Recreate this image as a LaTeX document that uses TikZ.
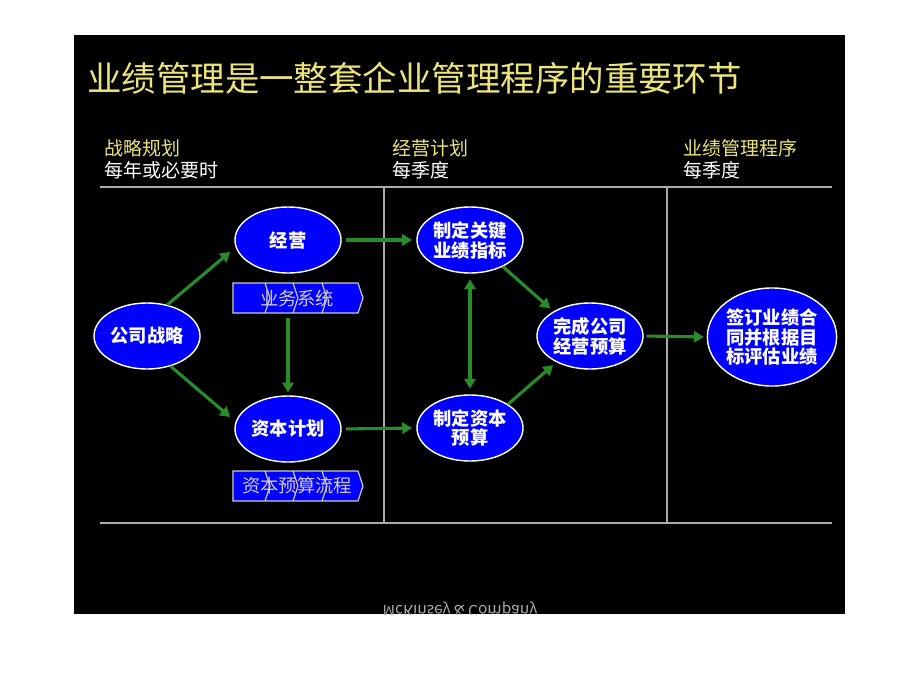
\documentclass[tikz,border=0pt]{standalone}
\usepackage{fontspec}
\setmainfont{Noto Sans CJK SC}
\usetikzlibrary{arrows.meta,shapes.geometric}

\definecolor{titleyellow}{RGB}{236,228,120}
\definecolor{ovalblue}{RGB}{0,0,255}
\definecolor{arrowgreen}{RGB}{40,140,40}
\definecolor{rulegray}{RGB}{170,170,170}
\definecolor{bartext}{RGB}{205,205,220}

\tikzset{
  oval/.style={ellipse,draw=white,fill=ovalblue,line width=1pt,inner sep=0pt,
    minimum width=2.65cm,minimum height=1.65cm,text=white,align=center,
    font=\fontsize{13}{14.2}\selectfont\bfseries},
  flow/.style={draw=arrowgreen,line width=2.2pt,-{Triangle[length=7pt,width=8pt]}},
  rule/.style={draw=rulegray,line width=1.5pt},
  head/.style={anchor=west,inner sep=0pt,font=\fontsize{13.5}{15}\selectfont},
  bar/.style={fill=ovalblue,draw=rulegray!60!white,line width=0.8pt}
}

\begin{document}
\begin{tikzpicture}[x=0.025cm,y=-0.025cm]
\useasboundingbox[fill=white] (0,0) rectangle (920,690);
\fill[black] (74,35) rectangle (845,614);

% title and columns
\node[anchor=west,inner sep=0pt,text=titleyellow,font=\fontsize{24.5}{26}\selectfont] (title) at (87,78) {业绩管理是一整套企业管理程序的重要环节};
\node[head,text=titleyellow] (h1) at (104,148) {战略规划};
\node[head,text=white] (s1) at (104,170) {每年或必要时};
\node[head,text=titleyellow] (h2) at (392,148) {经营计划};
\node[head,text=white] (s2) at (392,170) {每季度};
\node[head,text=titleyellow] (h3) at (683,148) {业绩管理程序};
\node[head,text=white] (s3) at (683,170) {每季度};

\draw[rule] (100,187) -- (832,187);
\draw[rule] (100,523) -- (832,523);
\draw[rule] (384,187) -- (384,523);
\draw[rule] (667,187) -- (667,523);

% ovals
\node[oval] (strat) at (147,336) {公司战略};
\node[oval] (ops) at (288,240) {经营};
\node[oval] (cap) at (288,429) {资本计划};
\node[oval] (kpi) at (470,240) {制定关键\\业绩指标};
\node[oval] (capbud) at (470,428) {制定资本\\预算};
\node[oval] (budget) at (590,336) {完成公司\\经营预算};
\node[oval,minimum width=3.2cm,minimum height=2.45cm,font=\fontsize{13}{13.8}\selectfont\bfseries] (contract) at (772,337) {签订业绩合\\同并根据目\\标评估业绩};

% process bars
\filldraw[bar] (233,283) -- (358,283) -- (363,298) -- (358,313) -- (233,313) -- cycle;
\draw[rulegray!60!white,line width=0.8pt] (265,283) -- (270,298) -- (265,313)
  (293,283) -- (298,298) -- (293,313) (322,283) -- (327,298) -- (322,313);
\node[text=bartext,font=\fontsize{13}{14}\selectfont] (sysbar) at (297,298) {业务系统};
\coordinate (sysfoot) at (288,318);
\filldraw[bar] (233,471) -- (358,471) -- (363,486) -- (358,501) -- (233,501) -- cycle;
\draw[rulegray!60!white,line width=0.8pt] (265,471) -- (270,486) -- (265,501)
  (293,471) -- (298,486) -- (293,501) (322,471) -- (327,486) -- (322,501);
\node[text=bartext,font=\fontsize{13}{14}\selectfont] (capbar) at (297,486) {资本预算流程};

% connectors
\draw[flow,shorten >=5pt] (strat.57) -- (ops.188);
\draw[flow,shorten >=5pt] (strat.-52) -- (cap.172);
\draw[flow,shorten >=2pt] (sysfoot) -- (cap.north);
\draw[flow,shorten <=3pt,shorten >=3pt] (ops.east) -- (kpi.west);
\draw[flow,shorten <=3pt,shorten >=3pt] (cap.east) -- (capbud.west);
\draw[flow,{Triangle[length=7pt,width=8pt]}-{Triangle[length=7pt,width=8pt]},shorten <=4pt,shorten >=4pt] (kpi.south) -- (capbud.north);
\draw[flow,shorten >=3pt] (kpi.-39) -- (budget.146);
\draw[flow,shorten >=3pt] (capbud.32) -- (budget.218);
\draw[flow,shorten <=2pt,shorten >=2pt] (budget.east) -- (contract.west);

% footer, cut by the page edge
\begin{scope}
\clip (74,35) rectangle (845,614);
\node[text=rulegray,yscale=-1,transform shape,font=\fontsize{11}{12}\selectfont] (firm) at (460,610) {McKinsey \& Company};
\end{scope}
\end{tikzpicture}
\end{document}
